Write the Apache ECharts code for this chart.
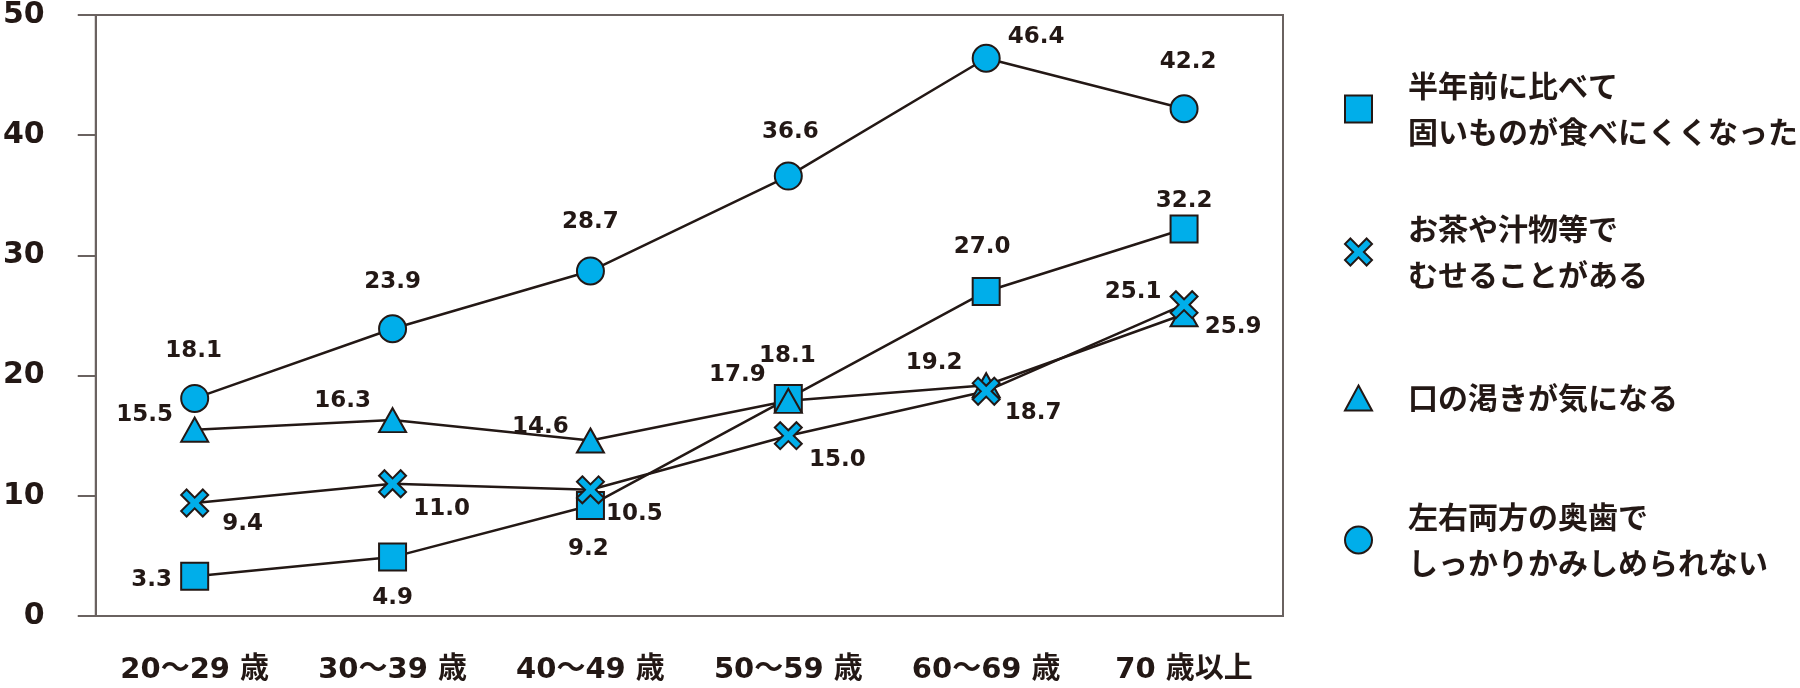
<!DOCTYPE html>
<html lang="ja">
  <head>
    <meta charset="UTF-8" />
    <title>年代別 口腔機能</title>
    <script src="https://cdn.jsdelivr.net/npm/echarts@6/dist/echarts.min.js"></script>
    <style>
      html, body { margin: 0; padding: 0; background: #fff; }
      #main { width: 1800px; height: 688px; }
    </style>
  </head>
  <body>
    <div id="main"></div>
    <script>
      // カテゴリと値
      const ages = ['20〜29 歳', '30〜39 歳', '40〜49 歳', '50〜59 歳', '60〜69 歳', '70 歳以上']
      const hardFood = [3.3, 4.9, 9.2, 18.1, 27.0, 32.2]
      const choking = [9.4, 11.0, 10.5, 15.0, 18.7, 25.9]
      const dryMouth = [15.5, 16.3, 14.6, 17.9, 19.2, 25.1]
      const cantChew = [18.1, 23.9, 28.7, 36.6, 46.4, 42.2]

      const names = {
        hard: '半年前に比べて\n固いものが食べにくくなった',
        choke: 'お茶や汁物等で\nむせることがある',
        dry: '口の渇きが気になる',
        chew: '左右両方の奥歯で\nしっかりかみしめられない'
      }

      // ラベルの位置（点からのずれ）
      const offHard = [[-43, 4], [0, 41], [-2, 44], [-1, -42], [-4, -44], [0, -28]]
      const offChoke = [[48, 21], [49, 25], [44, 24], [49, 24], [47, 22], [49, 22]]
      const offDry = [[-50, -15], [-50, -19], [-50, -13], [-51, -26], [-52, -22], [-51, -22]]
      const offChew = [[-1, -47], [0, -47], [0, -49], [2, -44], [50, -21], [4, -47]]

      const dark = '#231815'
      const cyan = '#00aeea'
      const crossPath = 'path://M20,0L50,30L80,0L100,20L70,50L100,80L80,100L50,70L20,100L0,80L30,50L0,20Z'
      const numFont = 'DejaVu Sans'
      const jpFont = 'Noto Sans CJK JP'

      function makeSeries(name, values, offsets, symbol, size) {
        return {
          name: name,
          type: 'line',
          data: values.map((v, i) => ({
            value: v,
            label: { offset: offsets[i] }
          })),
          symbol: symbol,
          symbolSize: size,
          itemStyle: { color: cyan, borderColor: dark, borderWidth: 2 },
          lineStyle: { color: dark, width: 2.5 },
          emphasis: { disabled: true },
          label: {
            show: true,
            position: 'inside',
            color: dark,
            fontFamily: numFont,
            fontWeight: 'bold',
            fontSize: 23,
            formatter: (p) => p.value.toFixed(1)
          },
          animation: false
        }
      }

      function makeLegend(name, icon, top, twoLines, h) {
        return {
          data: [{ name: name, icon: icon }],
          left: 1344,
          top: top,
          padding: 0,
          itemWidth: 27,
          itemHeight: h,
          selectedMode: false,
          textStyle: {
            color: dark,
            fontFamily: jpFont,
            fontWeight: 'bold',
            fontSize: 30,
            lineHeight: 46,
            padding: twoLines ? [46, 0, 0, 31] : [0, 0, 0, 31]
          }
        }
      }

      const chart = echarts.init(document.getElementById('main'))
      chart.setOption({
        animation: false,
        grid: {
          left: 91, top: 11, right: 517, bottom: 72,
          show: true, borderColor: '#6a6260', borderWidth: 2,
          backgroundColor: 'transparent'
        },
        legend: [
          makeLegend(names.hard, 'rect', 40, true, 27),
          makeLegend(names.choke, crossPath, 183, true, 27),
          makeLegend(names.dry, 'triangle', 375, false, 25),
          makeLegend(names.chew, 'circle', 471, true, 27)
        ],
        xAxis: {
          type: 'category',
          data: ages,
          boundaryGap: true,
          axisLine: { show: true, lineStyle: { color: '#6a6260', width: 2 } },
          axisTick: { show: false },
          axisLabel: {
            margin: 40,
            color: dark,
            fontFamily: numFont + ', ' + jpFont,
            fontWeight: 'bold',
            fontSize: 29
          }
        },
        yAxis: {
          type: 'value',
          min: 0,
          max: 50,
          interval: 10,
          splitLine: { show: false },
          axisLine: { show: true, lineStyle: { color: '#6a6260', width: 2 } },
          axisTick: { show: true, length: 18, lineStyle: { color: '#6a6260', width: 2 } },
          axisLabel: {
            margin: 51,
            color: dark,
            fontFamily: numFont,
            fontWeight: 'bold',
            fontSize: 30,
            padding: [12, 0, 0, 0]
          }
        },
        series: [
          makeSeries(names.hard, hardFood, offHard, 'rect', 27),
          makeSeries(names.dry, dryMouth, offDry, 'triangle', [27, 24]),
          makeSeries(names.choke, choking, offChoke, crossPath, 27),
          makeSeries(names.chew, cantChew, offChew, 'circle', 27)
        ]
      })
    </script>
  </body>
</html>
